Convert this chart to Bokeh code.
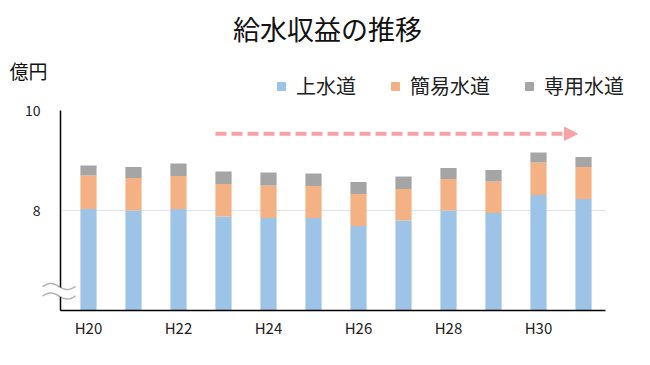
import numpy as np
from bokeh.plotting import figure
from bokeh.models import (ColumnDataSource, FixedTicker, Range1d, Label, Legend,
                          LegendItem, Arrow, NormalHead, PolyAnnotation)
from bokeh.embed import file_html
from bokeh.resources import INLINE

# ---- data -------------------------------------------------------------
years = ["H20", "H21", "H22", "H23", "H24", "H25", "H26", "H27", "H28", "H29", "H30", "H31"]
josuido = [8.03, 8.00, 8.03, 7.88, 7.85, 7.85, 7.69, 7.80, 8.00, 7.95, 8.31, 8.23]
kani_suido = [0.67, 0.65, 0.66, 0.65, 0.65, 0.64, 0.64, 0.63, 0.63, 0.63, 0.65, 0.64]
senyo_suido = [0.20, 0.22, 0.25, 0.25, 0.26, 0.25, 0.24, 0.25, 0.22, 0.23, 0.20, 0.20]
series_names = ["上水道", "簡易水道", "専用水道"]
tick_labels = ["H20", "H22", "H24", "H26", "H28", "H30"]
y_ticks = [8, 10]
y_grid = [8]
y_base = 6          # value at the (broken) axis baseline

colors = ["#9DC3E6", "#F4B183", "#A5A5A5"]
FONT = "Noto Sans CJK JP"
PINK = "#F5A3A6"
W, H = 650, 365

# page-pixel -> data helpers (axes: x 60..605 px, y 110..310 px  <->  6..10)
def dx(px):
    return (px - 88) / 45.0

def dy(py):
    return 10 - (py - 110) / 50.0

xs = list(range(len(years)))
lvl0 = np.full(len(years), float(y_base))
lvl1 = np.array(josuido)
lvl2 = lvl1 + np.array(kani_suido)
lvl3 = lvl2 + np.array(senyo_suido)
src = ColumnDataSource(dict(x=xs, b0=lvl0, t0=lvl1, t1=lvl2, t2=lvl3))

p = figure(width=W, height=H,
           x_range=Range1d(dx(0), dx(W)), y_range=Range1d(dy(H), dy(0)),
           output_backend="svg", toolbar_location=None,
           min_border=0, min_border_left=0, min_border_right=0,
           min_border_top=0, min_border_bottom=0)
p.outline_line_color = None
p.background_fill_color = "white"
p.border_fill_color = "white"

# gridline
p.segment(x0=[dx(62)] * len(y_grid), x1=[dx(605)] * len(y_grid), y0=y_grid, y1=y_grid,
          line_color="#DDE4EC", line_width=1)

# stacked bars from the axis baseline
bars = []
for (b, t), c in zip([("b0", "t0"), ("t0", "t1"), ("t1", "t2")], colors):
    bars.append(p.vbar(x="x", bottom=b, top=t, width=0.36, fill_color=c,
                       line_color=None, source=src))

# axes placed inside the frame
tick_pos = [years.index(t) for t in tick_labels]
p.xaxis.ticker = FixedTicker(ticks=tick_pos)
p.xaxis.major_label_overrides = {i: t for i, t in zip(tick_pos, tick_labels)}
p.xaxis.fixed_location = y_base
p.xaxis.bounds = (dx(60), dx(605))
p.yaxis.ticker = FixedTicker(ticks=y_ticks)
p.yaxis.fixed_location = dx(60)
p.yaxis.bounds = (y_base, 10)
for ax in (p.xaxis, p.yaxis):
    ax.axis_line_color = "black"
    ax.axis_line_width = 1.5
    ax.major_tick_line_color = None
    ax.minor_tick_line_color = None
    ax.major_label_text_font = FONT
    ax.major_label_text_color = "#222222"
p.xaxis.major_label_text_font_size = "15px"
p.yaxis.major_label_text_font_size = "14px"
p.xaxis.major_label_standoff = 0
p.yaxis.major_label_standoff = 14
p.xgrid.visible = False
p.ygrid.visible = False

# title and unit
p.add_layout(Label(x=dx(327), y=dy(28), text="給水収益の推移", text_align="center",
                   text_baseline="middle", text_font=FONT, text_font_size="27px",
                   text_color="#111111"))
p.add_layout(Label(x=dx(28), y=dy(70), text="億円", text_align="center",
                   text_baseline="middle", text_font=FONT, text_font_size="19px",
                   text_color="#111111"))

# legend with square markers (marker renderers sit outside the visible range)
dummies = [p.scatter(x=[-100], y=[-100], marker="square", size=8, color=c) for c in colors]
legend = Legend(items=[LegendItem(label=n, renderers=[r]) for n, r in zip(series_names, dummies)],
                location=(271, H - 100), orientation="horizontal",
                glyph_width=20, glyph_height=20, label_standoff=5, spacing=29,
                padding=0, margin=0, border_line_color=None, background_fill_alpha=0,
                label_text_font=FONT, label_text_font_size="20px",
                label_text_color="#222222")
p.add_layout(legend)

# dashed trend arrow
p.add_layout(Arrow(end=NormalHead(size=13, fill_color=PINK, line_color=PINK),
                   x_start=dx(215), y_start=dy(133.3), x_end=dx(577), y_end=dy(133.3),
                   line_color=PINK, line_width=4, line_dash="11 5"))

# broken-axis mark
t = np.linspace(0, 1, 40)
wx = [dx(v) for v in (42 + 33 * t)]
w1 = [dy(286 - 3 * s) for s in np.sin(2 * np.pi * t)]
w2 = [dy(295.5 - 3 * s) for s in np.sin(2 * np.pi * t)]
p.add_layout(PolyAnnotation(xs=wx + wx[::-1], ys=w1 + w2[::-1], fill_color="white",
                            fill_alpha=1, line_alpha=0))
for w in (w1, w2):
    p.add_layout(PolyAnnotation(xs=wx + wx[::-1], ys=w + w[::-1], fill_alpha=0,
                                line_color="black", line_width=1.5))

open("out.html", "w").write(file_html(p, INLINE))
